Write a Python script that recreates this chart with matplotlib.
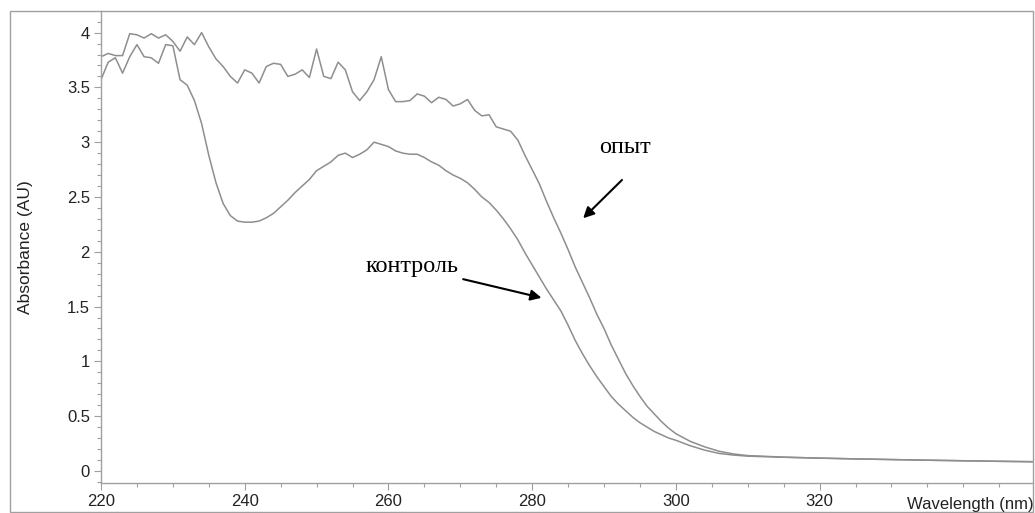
import matplotlib
matplotlib.use("Agg")
import matplotlib.pyplot as plt
from matplotlib.patches import Rectangle
from matplotlib.ticker import MultipleLocator, FuncFormatter

# ---- data ----
wl_noisy = list(range(220, 300))  # 1 nm steps
control_noisy = [3.57, 3.73, 3.77, 3.63, 3.78, 3.89, 3.78, 3.77, 3.72, 3.89,
                 3.88, 3.57, 3.52, 3.38, 3.17, 2.88, 2.63, 2.44, 2.33, 2.28,
                 2.27, 2.27, 2.28, 2.31, 2.35, 2.41, 2.47, 2.54, 2.60, 2.66,
                 2.74, 2.78, 2.82, 2.88, 2.90, 2.86, 2.89, 2.93, 3.00, 2.98,
                 2.96, 2.92, 2.90, 2.89, 2.89, 2.86, 2.82, 2.79, 2.74, 2.70,
                 2.67, 2.63, 2.57, 2.50, 2.45, 2.38, 2.30, 2.21, 2.11, 1.99,
                 1.88, 1.77, 1.66, 1.56, 1.46, 1.33, 1.19, 1.07, 0.96, 0.86,
                 0.77, 0.68, 0.61, 0.55, 0.49, 0.44, 0.40, 0.36, 0.33, 0.30]
opyt_noisy = [3.78, 3.81, 3.79, 3.79, 3.99, 3.98, 3.95, 3.99, 3.95, 3.98,
              3.92, 3.83, 3.96, 3.89, 4.00, 3.87, 3.76, 3.69, 3.60, 3.54,
              3.66, 3.63, 3.54, 3.69, 3.72, 3.71, 3.60, 3.62, 3.66, 3.59,
              3.85, 3.60, 3.58, 3.73, 3.66, 3.46, 3.38, 3.46, 3.57, 3.78,
              3.48, 3.37, 3.37, 3.38, 3.44, 3.42, 3.36, 3.41, 3.39, 3.33,
              3.35, 3.39, 3.29, 3.24, 3.25, 3.14, 3.12, 3.10, 3.02, 2.88,
              2.75, 2.62, 2.46, 2.31, 2.17, 2.02, 1.86, 1.72, 1.58, 1.43,
              1.30, 1.15, 1.02, 0.89, 0.78, 0.68, 0.59, 0.52, 0.45, 0.39]
wl_tail = [300, 302, 304, 306, 308, 310, 315, 320, 325, 330, 335, 340, 345, 350]
control_tail = [0.28, 0.23, 0.19, 0.16, 0.145, 0.135, 0.125, 0.117, 0.110,
                0.104, 0.098, 0.093, 0.088, 0.084]
opyt_tail = [0.34, 0.27, 0.22, 0.18, 0.155, 0.140, 0.126, 0.117, 0.110,
             0.104, 0.098, 0.093, 0.088, 0.084]

wavelength = wl_noisy + wl_tail
control = control_noisy + control_tail
opyt = opyt_noisy + opyt_tail

x_ticks = [220, 240, 260, 280, 300, 320]
y_ticks = [0, 0.5, 1, 1.5, 2, 2.5, 3, 3.5, 4]

# ---- figure ----
W, H = 1035, 513
fig = plt.figure(figsize=(W / 100, H / 100), dpi=100)
ax = fig.add_axes([101 / W, 1 - 483 / H, (1033 - 101) / W, (483 - 11) / H])

line_col = "#8e8e8e"
ax.plot(wavelength, control, color=line_col, lw=1.1)
ax.plot(wavelength, opyt, color=line_col, lw=1.1)

ax.set_xlim(220, 349.7)
ax.set_ylim(-0.11, 4.197)

for s in ["top", "right"]:
    ax.spines[s].set_visible(False)
for s in ["left", "bottom"]:
    ax.spines[s].set_color("#a0a0a0")
    ax.spines[s].set_linewidth(1.0)

ax.set_xticks(x_ticks)
ax.set_yticks(y_ticks)
ax.xaxis.set_minor_locator(MultipleLocator(5))
ax.yaxis.set_minor_locator(MultipleLocator(0.1))
ax.yaxis.set_major_formatter(FuncFormatter(lambda v, p: f"{v:g}"))

tick_font = "Liberation Sans"
ax.tick_params(axis="both", which="major", color="#a0a0a0", length=5, width=0.8,
               labelsize=12, labelcolor="#222222", pad=3)
ax.tick_params(axis="both", which="minor", color="#a0a0a0", length=3, width=0.8)
for lab in ax.get_xticklabels() + ax.get_yticklabels():
    lab.set_fontfamily(tick_font)

ax.set_ylabel("Absorbance (AU)", fontsize=12.5, family=tick_font, color="#222222")
ax.yaxis.set_label_coords(-0.073, 0.5)

# x-axis title at the right end of the axis
fig.text(1034 / W, 1 - 504 / H, "Wavelength (nm)", fontsize=12, family=tick_font,
         color="#222222", ha="right", va="center")

# annotations
serif = "Liberation Serif"
ax.text(263.3, 1.87, "контроль", fontsize=17.5, family=serif, ha="center",
        va="center", color="black")
ax.annotate("", xy=(281.3, 1.58), xytext=(270.4, 1.75),
            arrowprops=dict(arrowstyle="-|>", color="black", lw=1.5,
                            mutation_scale=16, shrinkA=0, shrinkB=0))
ax.text(292.9, 2.95, "опыт", fontsize=17.5, family=serif, ha="center",
        va="center", color="black")
ax.annotate("", xy=(287.1, 2.306), xytext=(292.5, 2.655),
            arrowprops=dict(arrowstyle="-|>", color="black", lw=1.5,
                            mutation_scale=16, shrinkA=0, shrinkB=0))

# outer frame
fig.patches.append(Rectangle((10 / W, 1 / H), (1033 - 10) / W, (512 - 11) / H,
                             transform=fig.transFigure, fill=False,
                             edgecolor="#a0a0a0", lw=1.0))

fig.savefig("out.png", dpi=100)
